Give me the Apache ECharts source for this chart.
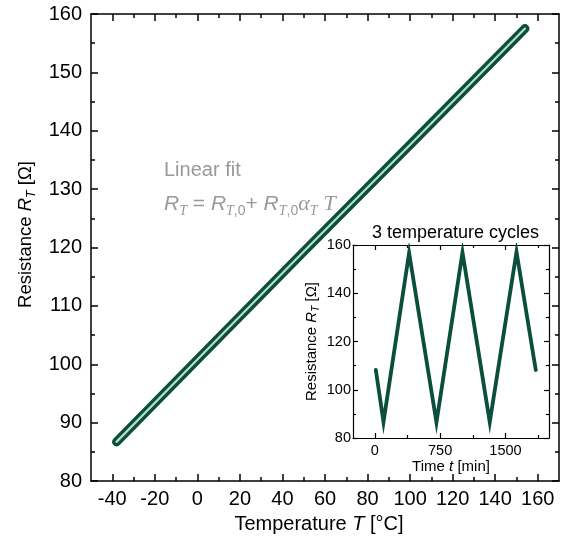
<!DOCTYPE html>
<html><head><meta charset="utf-8">
<script src="https://cdn.jsdelivr.net/npm/echarts@6/dist/echarts.min.js"></script>
<style>html,body{margin:0;padding:0;background:#fff}#c{width:562px;height:544px}</style>
</head><body><div id="c"></div>
<script>
// Main plot: resistance vs temperature (linear band)
const tempT = [-38, 0, 50, 100, 154];
const resR = [86.7, 100.8, 119.3, 137.6, 157.5];
// Inset: 3 temperature cycles
const timeT = [12, 100, 394, 708, 1007, 1320, 1627, 1848];
const cycleR = [108.2, 86.7, 156.7, 86.5, 156.9, 86.6, 157.1, 108.2];
// Tick values
const mainXTicks = [-40, -20, 0, 20, 40, 60, 80, 100, 120, 140, 160];
const mainXMinor = [-30, -10, 10, 30, 50, 70, 90, 110, 130, 150];
const mainYTicks = [80, 90, 100, 110, 120, 130, 140, 150, 160];
const insetXTicks = [0, 750, 1500];
const insetXMinor = [375, 1125, 1875];
const insetYTicks = [80, 100, 120, 140, 160];

const FONT = "'Liberation Sans', Arial, sans-serif";
const SERIF = "'Liberation Serif', 'Times New Roman', serif";
const DARK = '#0a4e3b';
const LIGHT = '#b8dccb';
const plain = v => String(v);

function xAx(o) {
  return Object.assign({
    type: 'value', splitLine: {show: false},
    axisLine: {show: true, onZero: false, lineStyle: {color: '#000', width: 1.5}},
    axisLabel: {show: false},
  }, o);
}

const chart = echarts.init(document.getElementById('c'), null, {renderer: 'canvas'});
chart.setOption({
  animation: false,
  backgroundColor: '#fff',
  grid: [
    {left: 91, top: 14, width: 468, height: 467, containLabel: false},
    {left: 353, top: 245, width: 196, height: 193, show: true, backgroundColor: '#fff', borderWidth: 0, containLabel: false}
  ],
  xAxis: [
    xAx({gridIndex: 0, position: 'bottom', min: -50, max: 170,
      axisTick: {inside: true, length: 7, customValues: mainXTicks, lineStyle: {color: '#000', width: 1.5}},
      axisLabel: {show: true, customValues: mainXTicks, formatter: plain, fontSize: 20, fontFamily: FONT, color: '#000', margin: 8},
      name: 'Temperature {i|T} [°C]', nameLocation: 'middle', nameGap: 33,
      nameTextStyle: {fontSize: 20, fontFamily: FONT, color: '#000', padding: [0, 12, 0, 0],
        rich: {i: {fontSize: 20, fontFamily: FONT, fontStyle: 'italic', color: '#000'}}}
    }),
    xAx({gridIndex: 0, position: 'bottom', min: -50, max: 170, axisLine: {show: false},
      axisTick: {inside: true, length: 4, customValues: mainXMinor, lineStyle: {color: '#000', width: 1.5}}}),
    xAx({gridIndex: 0, position: 'top', min: -50, max: 170,
      axisTick: {inside: true, length: 7, customValues: mainXTicks, lineStyle: {color: '#000', width: 1.5}}}),
    xAx({gridIndex: 0, position: 'top', min: -50, max: 170, axisLine: {show: false},
      axisTick: {inside: true, length: 4, customValues: mainXMinor, lineStyle: {color: '#000', width: 1.5}}}),
    xAx({gridIndex: 1, position: 'bottom', min: -250, max: 2000,
      axisLine: {show: true, onZero: false, lineStyle: {color: '#000', width: 1.2}},
      axisTick: {inside: true, length: 5, customValues: insetXTicks, lineStyle: {color: '#000', width: 1.2}},
      axisLabel: {show: true, customValues: insetXTicks, formatter: plain, fontSize: 14.5, fontFamily: FONT, color: '#000', margin: 5},
      name: 'Time {i|t} [min]', nameLocation: 'middle', nameGap: 17,
      nameTextStyle: {fontSize: 15, fontFamily: FONT, color: '#000',
        rich: {i: {fontSize: 15, fontFamily: FONT, fontStyle: 'italic', color: '#000'}}}
    }),
    xAx({gridIndex: 1, position: 'bottom', min: -250, max: 2000, axisLine: {show: false},
      axisTick: {inside: true, length: 3, customValues: insetXMinor, lineStyle: {color: '#000', width: 1.2}}}),
    xAx({gridIndex: 1, position: 'top', min: -250, max: 2000,
      axisLine: {show: true, onZero: false, lineStyle: {color: '#000', width: 1.2}},
      axisTick: {inside: true, length: 5, customValues: insetXTicks, lineStyle: {color: '#000', width: 1.2}}}),
    xAx({gridIndex: 1, position: 'top', min: -250, max: 2000, axisLine: {show: false},
      axisTick: {inside: true, length: 3, customValues: insetXMinor, lineStyle: {color: '#000', width: 1.2}}})
  ],
  yAxis: [
    {type: 'value', gridIndex: 0, position: 'left', min: 80, max: 160, interval: 10, splitLine: {show: false},
      axisLine: {show: true, onZero: false, lineStyle: {color: '#000', width: 1.5}},
      axisTick: {inside: true, length: 7, customValues: mainYTicks, lineStyle: {color: '#000', width: 1.5}},
      minorTick: {show: true, splitNumber: 2, length: 4, lineStyle: {color: '#000', width: 1.5}},
      axisLabel: {customValues: mainYTicks, formatter: plain, fontSize: 20, fontFamily: FONT, color: '#000', margin: 9},
      name: 'Resistance {i|R}{s|T} [Ω]', nameLocation: 'middle', nameGap: 51,
      nameTextStyle: {fontSize: 18.5, fontFamily: FONT, color: '#000', lineHeight: 24, padding: [0, 0, 0, 26],
        rich: {i: {fontSize: 18.5, fontFamily: FONT, fontStyle: 'italic', color: '#000', lineHeight: 24},
               s: {fontSize: 12.5, fontFamily: FONT, fontStyle: 'italic', color: '#000', lineHeight: 12, verticalAlign: 'bottom'}}}
    },
    {type: 'value', gridIndex: 0, position: 'right', min: 80, max: 160, interval: 10, splitLine: {show: false},
      axisLine: {show: true, onZero: false, lineStyle: {color: '#000', width: 1.5}},
      axisTick: {inside: true, length: 7, lineStyle: {color: '#000', width: 1.5}},
      minorTick: {show: true, splitNumber: 2, length: 4, lineStyle: {color: '#000', width: 1.5}},
      axisLabel: {show: false}
    },
    {type: 'value', gridIndex: 1, position: 'left', min: 80, max: 160, interval: 20, splitLine: {show: false},
      axisLine: {show: true, onZero: false, lineStyle: {color: '#000', width: 1.2}},
      axisTick: {inside: true, length: 5, customValues: insetYTicks, lineStyle: {color: '#000', width: 1.2}},
      minorTick: {show: true, splitNumber: 2, length: 3, lineStyle: {color: '#000', width: 1.2}},
      axisLabel: {customValues: insetYTicks, formatter: plain, fontSize: 14.5, fontFamily: FONT, color: '#000', margin: 2},
      name: 'Resistance {i|R}{s|T} [Ω]', nameLocation: 'middle', nameGap: 32,
      nameTextStyle: {fontSize: 15, fontFamily: FONT, color: '#000', lineHeight: 19,
        rich: {i: {fontSize: 15, fontFamily: FONT, fontStyle: 'italic', color: '#000', lineHeight: 19},
               s: {fontSize: 10, fontFamily: FONT, fontStyle: 'italic', color: '#000', lineHeight: 10, verticalAlign: 'bottom'}}}
    },
    {type: 'value', gridIndex: 1, position: 'right', min: 80, max: 160, interval: 20, splitLine: {show: false},
      axisLine: {show: true, onZero: false, lineStyle: {color: '#000', width: 1.2}},
      axisTick: {inside: true, length: 5, lineStyle: {color: '#000', width: 1.2}},
      minorTick: {show: true, splitNumber: 2, length: 3, lineStyle: {color: '#000', width: 1.2}},
      axisLabel: {show: false}
    }
  ],
  series: [
    {type: 'line', xAxisIndex: 0, yAxisIndex: 0, symbol: 'none', silent: true,
      data: tempT.map((t, i) => [t, resR[i]]),
      lineStyle: {color: DARK, width: 9, cap: 'round'}},
    {type: 'line', xAxisIndex: 0, yAxisIndex: 0, symbol: 'none', silent: true,
      data: tempT.map((t, i) => [t, resR[i]]),
      lineStyle: {color: LIGHT, width: 2.2, cap: 'round'}},
    {type: 'line', xAxisIndex: 4, yAxisIndex: 2, symbol: 'none', silent: true,
      data: timeT.map((t, i) => [t, cycleR[i]]),
      lineStyle: {color: DARK, width: 3.8, join: 'miter', cap: 'round'}}
  ],
  graphic: [
    {type: 'text', x: 164, y: 170.5, silent: true,
      style: {text: 'Linear fit', fontSize: 20, fontFamily: FONT, fill: '#999', verticalAlign: 'middle'}},
    {type: 'text', x: 164, y: 204, silent: true,
      style: {
        text: '{R|R}{s|T}{n| = }{R|R}{s|T}{c|,0}{n|+ }{R|R}{s|T}{c|,0}{a|α}{s|T}{n| }{T|T}',
        fill: '#999', verticalAlign: 'middle',
        rich: {
          R: {fontSize: 21, fontFamily: FONT, fontStyle: 'italic', fill: '#999', lineHeight: 28},
          n: {fontSize: 21, fontFamily: FONT, fill: '#999', lineHeight: 28},
          s: {fontSize: 14, fontFamily: SERIF, fontStyle: 'italic', fill: '#999', lineHeight: 14, verticalAlign: 'bottom'},
          c: {fontSize: 14, fontFamily: FONT, fill: '#999', lineHeight: 14, verticalAlign: 'bottom'},
          a: {fontSize: 22, fontFamily: SERIF, fontStyle: 'italic', fill: '#999', lineHeight: 28},
          T: {fontSize: 22, fontFamily: SERIF, fontStyle: 'italic', fill: '#999', lineHeight: 28}
        }
      }},
    {type: 'text', x: 455.5, y: 233, silent: true,
      style: {text: '3 temperature cycles', fontSize: 18, fontFamily: FONT, fill: '#000', align: 'center', verticalAlign: 'middle'}}
  ]
});
</script>
</body></html>
